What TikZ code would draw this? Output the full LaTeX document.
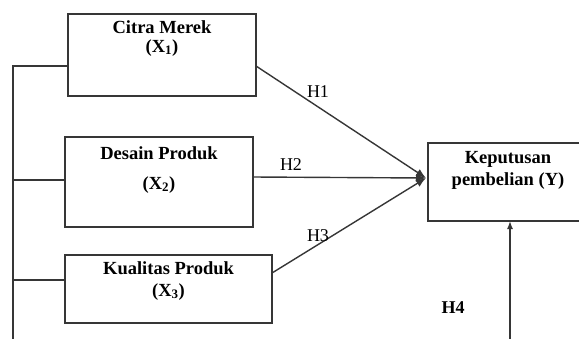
\documentclass[tikz,border=0pt]{standalone}
\usepackage{fontspec}
\setmainfont{Liberation Serif}
\usetikzlibrary{arrows.meta,calc}
\definecolor{ln}{HTML}{363636}
\begin{document}
\begin{tikzpicture}[x=1pt,y=-1pt,
  box/.style={draw=ln,line width=1.6pt,inner sep=0pt,outer sep=0pt,fill=white},
  txt/.style={font=\fontsize{18.5}{19}\selectfont\bfseries,inner sep=0pt,anchor=base},
  hl/.style={font=\fontsize{18}{19}\selectfont,inner sep=0pt,anchor=base},
  conn/.style={draw=ln,line width=1.4pt},
  arr/.style={conn,-{Latex[length=10pt,width=8pt]}}]
\useasboundingbox (0,0) rectangle (579,338);
\clip (0,0) rectangle (579,338);
% boxes
\node[box,minimum width=188pt,minimum height=82pt] (b1) at (162,55) {};
\node[box,minimum width=188pt,minimum height=90pt] (b2) at (159,182) {};
\node[box,minimum width=207pt,minimum height=68pt] (b3) at (168.5,289) {};
\node[box,minimum width=160pt,minimum height=78pt] (by) at (508,182) {};
% texts
\node[txt] (t1a) at (162,33) {Citra Merek};
\node[txt] (t1b) at (162,52) {(X\textsubscript{1})};
\node[txt] (t2a) at (159,159) {Desain Produk};
\node[txt] (t2b) at (159,189) {(X\textsubscript{2})};
\node[txt] (t3a) at (168.5,274) {Kualitas Produk};
\node[txt] (t3b) at (168.5,296) {(X\textsubscript{3})};
\node[txt] (tya) at (508,163) {Keputusan};
\node[txt] (tyb) at (508,185) {pembelian (Y)};
% connection points
\coordinate (busTop) at (13,66);
\coordinate (busBot) at (13,345);
\coordinate (s2) at (13,180);
\coordinate (s3) at (13,280);
\coordinate (o1) at ($(b1.east)+(0,11)$);
\coordinate (o2) at ($(b2.east)+(0,-5)$);
\coordinate (o3) at ($(b3.east)+(0,-16)$);
\coordinate (tip) at (426,178);
\coordinate (h4s) at (510,345);
% left bus
\draw[conn] (busBot) -- (busTop) -- (b1.west |- busTop);
\draw[conn] (s2) -- (b2.west |- s2);
\draw[conn] (s3) -- (b3.west |- s3);
% arrows
\draw[arr] (o1) -- (tip);
\draw[arr] (o2) -- (tip);
\draw[arr] (o3) -- (tip);
\draw[arr,-{Latex[length=8pt,width=6pt]}] (h4s) -- (h4s |- by.south);
% labels
\node[hl] (h1) at (318,97) {H1};
\node[hl] (h2) at (291,170) {H2};
\node[hl] (h3) at (318,241) {H3};
\node[hl,font=\fontsize{18}{19}\selectfont\bfseries] (h4) at (453,313) {H4};
\end{tikzpicture}
\end{document}
